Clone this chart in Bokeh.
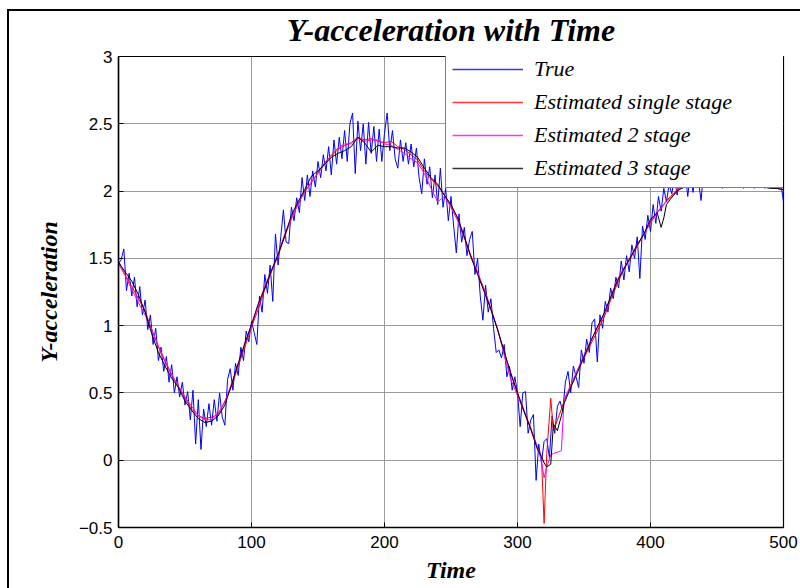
from bokeh.plotting import figure
from bokeh.models import FixedTicker, Legend, LegendItem
from bokeh.embed import file_html
from bokeh.resources import INLINE

# ---- data ----
time_true = list(range(0, 501, 2))
y_true = [
    1.46, 1.49, 1.57, 1.26, 1.39, 1.22, 1.36, 1.14, 1.29, 1.08,
    1.19, 0.97, 1.08, 0.86, 0.98, 0.74, 0.84, 0.66, 0.77, 0.58,
    0.71, 0.50, 0.62, 0.47, 0.58, 0.41, 0.51, 0.30, 0.52, 0.12,
    0.45, 0.08, 0.38, 0.25, 0.42, 0.26, 0.45, 0.29, 0.50, 0.32,
    0.26, 0.60, 0.68, 0.52, 0.72, 0.63, 0.84, 0.74, 0.96, 0.88,
    1.03, 0.95, 0.86, 1.22, 1.10, 1.38, 1.24, 1.45, 1.18, 1.68,
    1.45, 1.66, 1.86, 1.62, 1.61, 1.88, 1.78, 1.95, 1.84, 2.10,
    1.93, 2.12, 1.96, 2.15, 2.03, 2.22, 2.10, 2.27, 2.15, 2.33,
    2.12, 2.38, 2.20, 2.40, 2.24, 2.45, 2.22, 2.50, 2.58, 2.13,
    2.52, 2.30, 2.50, 2.20, 2.51, 2.28, 2.48, 2.22, 2.46, 2.22,
    2.43, 2.58, 2.30, 2.45, 2.24, 2.17, 2.38, 2.22, 2.36, 2.20,
    2.35, 2.18, 2.32, 2.10, 1.98, 2.24, 2.05, 2.18, 1.95, 2.12,
    1.90, 2.17, 1.88, 2.02, 1.78, 1.96, 1.74, 1.54, 1.83, 1.62,
    1.73, 1.52, 1.64, 1.70, 1.38, 1.50, 1.22, 1.04, 1.30, 1.10,
    1.20, 0.98, 0.80, 0.82, 0.76, 0.86, 0.62, 0.70, 0.52, 0.62,
    0.50, 0.25, 0.50, 0.51, 0.20, 0.30, 0.34, -0.15, 0.12, -0.02,
    0.14, 0.16, 0.02, 0.33, 0.20, 0.40, 0.44, 0.36, 0.58, 0.66,
    0.50, 0.70, 0.62, 0.54, 0.82, 0.72, 0.90, 0.80, 1.02, 1.05,
    0.73, 1.08, 0.98, 1.18, 1.10, 1.28, 1.20, 1.36, 1.28, 1.48,
    1.34, 1.52, 1.40, 1.60, 1.50, 1.66, 1.35, 1.74, 1.64, 1.82,
    1.70, 1.90, 1.76, 1.96, 1.85, 2.02, 1.92, 2.05, 1.98, 2.10,
    1.97, 2.12, 2.02, 2.15, 1.96, 2.14, 1.99, 2.16, 2.08, 1.93,
    2.15, 2.04, 2.16, 2.05, 2.18, 2.04, 2.14, 2.02, 2.16, 2.05,
    2.15, 2.03, 2.13, 2.04, 2.15, 2.02, 2.12, 2.03, 2.14, 2.02,
    2.12, 2.03, 2.10, 2.02, 2.12, 2.04, 2.10, 2.05, 2.08, 2.06,
    1.92,
]

est_time = (list(range(0, 316, 5)) + [318, 320, 322, 325, 327, 330, 333, 335]
            + list(range(340, 406, 5)) + [408, 410, 412, 415]
            + list(range(420, 501, 5)))

y_single = [
    1.48, 1.38, 1.29, 1.20, 1.11, 0.97, 0.84, 0.73, 0.63, 0.55,
    0.46, 0.38, 0.33, 0.31, 0.32, 0.34, 0.44, 0.55, 0.70, 0.84,
    0.99, 1.12, 1.27, 1.40, 1.52, 1.66, 1.80, 1.90, 2.00, 2.06,
    2.14, 2.21, 2.26, 2.31, 2.34, 2.36, 2.40, 2.38, 2.39, 2.37,
    2.36, 2.37, 2.33, 2.31, 2.27, 2.23, 2.15, 2.09, 2.04, 1.97,
    1.89, 1.80, 1.66, 1.52, 1.39, 1.27, 1.13, 0.97, 0.80, 0.65,
    0.50, 0.37, 0.24, 0.10,
    0.02, -0.47, 0.05, 0.46, 0.22, 0.30, 0.38, 0.44,
    0.56, 0.66, 0.76, 0.86, 0.96, 1.06, 1.19, 1.31, 1.42, 1.50, 1.59, 1.68, 1.77, 1.84,
    1.88, 1.90, 1.93, 1.96,
    2.01, 2.04, 2.06, 2.07, 2.07, 2.08, 2.07, 2.07, 2.06, 2.06, 2.05, 2.05, 2.04, 2.03, 2.03, 2.02, 2.01,
]

y_two = [
    1.46, 1.37, 1.27, 1.17, 1.08, 0.97, 0.85, 0.74, 0.64, 0.55,
    0.47, 0.40, 0.33, 0.30, 0.30, 0.35, 0.43, 0.57, 0.71, 0.86,
    1.00, 1.15, 1.29, 1.41, 1.53, 1.68, 1.79, 1.91, 1.99, 2.07,
    2.13, 2.20, 2.27, 2.32, 2.35, 2.35, 2.39, 2.37, 2.38, 2.38,
    2.35, 2.34, 2.31, 2.28, 2.24, 2.21, 2.13, 2.02, 1.92, 1.96,
    1.88, 1.78, 1.65, 1.51, 1.40, 1.26, 1.12, 0.98, 0.78, 0.60,
    0.48, 0.36, 0.23, 0.09,
    0.00, -0.13, -0.05, 0.04, 0.05, 0.06, 0.07, 0.45,
    0.55, 0.67, 0.78, 0.89, 0.98, 1.08, 1.21, 1.34, 1.43, 1.51, 1.60, 1.68, 1.76, 1.84,
    1.87, 1.90, 1.92, 1.95,
    2.00, 2.04, 2.05, 2.07, 2.08, 2.07, 2.07, 2.06, 2.06, 2.05, 2.05, 2.04, 2.04, 2.03, 2.03, 2.02, 2.01,
]

y_three = [
    1.47, 1.40, 1.33, 1.23, 1.10, 0.94, 0.80, 0.70, 0.61, 0.54,
    0.44, 0.37, 0.31, 0.28, 0.29, 0.33, 0.41, 0.56, 0.72, 0.87,
    1.01, 1.16, 1.28, 1.41, 1.53, 1.67, 1.82, 1.92, 2.01, 2.11,
    2.15, 2.20, 2.25, 2.28, 2.30, 2.33, 2.40, 2.36, 2.29, 2.34,
    2.33, 2.33, 2.32, 2.32, 2.29, 2.25, 2.17, 2.10, 2.05, 1.97,
    1.90, 1.80, 1.66, 1.51, 1.38, 1.25, 1.12, 0.97, 0.81, 0.64,
    0.50, 0.36, 0.23, 0.08,
    0.03, -0.02, -0.05, -0.03, 0.27, 0.22, 0.33, 0.42,
    0.54, 0.65, 0.77, 0.88, 0.99, 1.09, 1.21, 1.33, 1.42, 1.51, 1.60, 1.68, 1.79, 1.84,
    1.73, 1.80, 1.90, 1.94,
    2.00, 2.03, 2.05, 2.06, 2.07, 2.07, 2.07, 2.07, 2.06, 2.05, 2.05, 2.04, 2.04, 2.03, 2.02, 2.02, 2.01,
]

x_ticks = [0, 100, 200, 300, 400, 500]
y_ticks = [-0.5, 0, 0.5, 1, 1.5, 2, 2.5, 3]

series_names = ["True", "Estimated single stage", "Estimated 2 stage", "Estimated 3 stage"]
series_colors = ["#0000FF", "#FF0000", "#FF00FF", "#000000"]

SERIF = "Liberation Serif"
SANS = "Liberation Sans"

p = figure(width=793, height=588, x_range=(x_ticks[0], x_ticks[-1]), y_range=(y_ticks[0], y_ticks[-1]),
           output_backend="svg", toolbar_location=None,
           min_border_left=111, min_border_right=17,
           min_border_top=55, min_border_bottom=61)
# outer figure frame (left and top edges), drawn behind a transparent border area
p.styles = {
    "margin-left": "7px",
    "background": ("linear-gradient(#000, #000) 0px 9px / 100% 2px no-repeat, "
                   "linear-gradient(#000, #000) 0px 9px / 2px 100% no-repeat, #fff"),
}
p.border_fill_color = None

p.title.text = "Y-acceleration with Time"
p.title.align = "center"
p.title.vertical_align = "bottom"
p.title.standoff = 17.5
p.title.text_font = SERIF
p.title.text_font_style = "bold italic"
p.title.text_font_size = "32px"
p.title.text_color = "black"

p.background_fill_color = "white"
p.outline_line_color = "black"
p.outline_line_width = 1.2

for ax in (p.xaxis[0], p.yaxis[0]):
    ax.axis_line_color = "black"
    ax.axis_line_width = 1.5
    ax.major_tick_in = 5
    ax.major_tick_out = 0
    ax.minor_tick_in = 0
    ax.minor_tick_out = 0
    ax.major_tick_line_color = "black"
    ax.major_label_text_font = SANS
    ax.major_label_text_font_size = "17px"
    ax.major_label_text_color = "black"
    ax.axis_label_text_font = SERIF
    ax.axis_label_text_font_style = "bold italic"
    ax.axis_label_text_font_size = "24px"
    ax.axis_label_text_color = "black"

p.xaxis[0].ticker = FixedTicker(ticks=x_ticks)
p.yaxis[0].ticker = FixedTicker(ticks=y_ticks)
p.xaxis[0].axis_label = "Time"
p.yaxis[0].axis_label = "Y-acceleration"
p.xaxis[0].major_label_standoff = 8
p.xaxis[0].axis_label_standoff = 6
p.yaxis[0].major_label_standoff = 6
p.yaxis[0].axis_label_standoff = 14

p.xgrid.ticker = FixedTicker(ticks=x_ticks)
p.ygrid.ticker = FixedTicker(ticks=y_ticks)
for g in (p.xgrid[0], p.ygrid[0]):
    g.grid_line_color = "#9a9a9a"
    g.grid_line_width = 1

p.line(time_true, y_true, color=series_colors[0], line_width=1)
p.line(est_time, y_single, color=series_colors[1], line_width=1)
p.line(est_time, y_two, color=series_colors[2], line_width=1)
p.line(est_time, y_three, color=series_colors[3], line_width=1)

# legend swatches: single-point lines (draw nothing in the plot area)
starts = [(time_true[0], y_true[0]), (est_time[0], y_single[0]),
          (est_time[0], y_two[0]), (est_time[0], y_three[0])]
items = []
for name, col, (sx, sy) in zip(series_names, series_colors, starts):
    r = p.line([sx], [sy], color=col, line_width=1.6, line_alpha=0.8)
    items.append(LegendItem(label=name, renderers=[r]))

lg = Legend(items=items)
lg.location = (327, 339)
lg.margin = 0
lg.padding = 6
lg.spacing = 7
lg.glyph_width = 71
lg.glyph_height = 24
lg.label_standoff = 11
lg.label_width = 245
lg.label_height = 24
lg.label_text_font = SERIF
lg.label_text_font_style = "italic"
lg.label_text_font_size = "22px"
lg.label_text_color = "black"
lg.border_line_color = "black"
lg.border_line_width = 1.5
lg.background_fill_color = "white"
lg.background_fill_alpha = 1.0
p.add_layout(lg)

open("out.html", "w").write(file_html(p, INLINE))
